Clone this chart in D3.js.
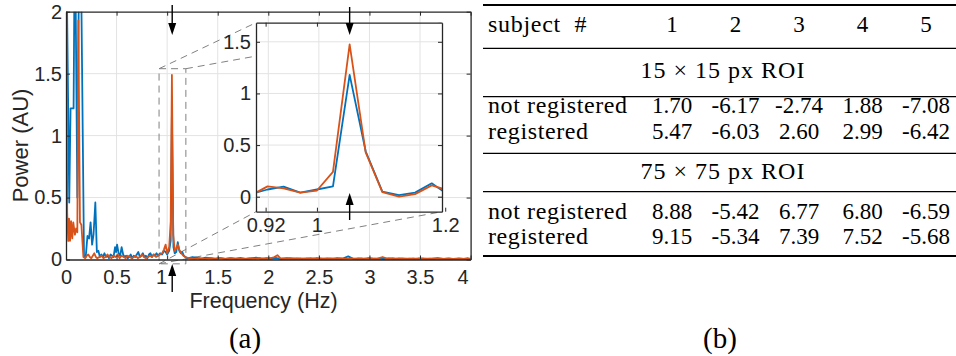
<!DOCTYPE html>
<html>
<head>
<meta charset="utf-8">
<script src="https://cdn.jsdelivr.net/npm/d3@7"></script>
<style>
  body { margin: 0; background: #fff; }
  svg { display: block; }
</style>
</head>
<body>
<svg id="fig" width="956" height="356"></svg>
<script>
// ---- data ----
const mainXTicks = [0, 0.5, 1, 1.5, 2, 2.5, 3, 3.5, 4];
const mainYTicks = [0, 0.5, 1, 1.5, 2];
const insetXTicks = [0.92, 1, 1.2];
const insetYTicks = [0, 0.5, 1, 1.5];

// spectrum, not registered (blue)
const blueFreq = [0.000, 0.032, 0.045, 0.075, 0.088, 0.112, 0.132, 0.143, 0.178, 0.195,
  0.212, 0.228, 0.243, 0.258, 0.272, 0.290, 0.305, 0.320, 0.335, 0.350,
  0.365, 0.380, 0.395, 0.410, 0.425, 0.440, 0.455, 0.470, 0.485, 0.495,
  0.505, 0.520, 0.535, 0.550, 0.565, 0.580, 0.595, 0.610, 0.625, 0.640,
  0.655, 0.670, 0.685, 0.700, 0.715, 0.730, 0.745, 0.760, 0.775, 0.790,
  0.805, 0.820, 0.835, 0.850, 0.865, 0.880, 0.895, 0.910, 0.930, 0.950,
  0.968, 0.985, 1.000, 1.020, 1.035, 1.047, 1.062, 1.075, 1.090, 1.105,
  1.120, 1.135, 1.150, 1.165, 1.180, 1.200, 1.250, 1.290, 1.330, 1.380,
  1.430, 1.480, 1.530, 1.580, 1.630, 1.680, 1.730, 1.780, 1.830, 1.880,
  1.930, 1.980, 2.030, 2.080, 2.130, 2.180, 2.230, 2.280, 2.330, 2.380,
  2.430, 2.480, 2.530, 2.580, 2.630, 2.680, 2.730, 2.790, 2.840, 2.890,
  2.940, 2.990, 3.040, 3.090, 3.140, 3.190, 3.240, 3.290, 3.340, 3.390,
  3.440, 3.490, 3.540, 3.590, 3.640, 3.690, 3.740, 3.790, 3.840, 3.890,
  3.940, 4.000];
const bluePower = [2.8, 0.46, 1.22, 1.22, 2.8, 0.50, 2.8, 2.8, 0.03, 0.02,
  0.19, 0.17, 0.30, 0.12, 0.20, 0.46, 0.06, 0.07, 0.02, 0.04,
  0.02, 0.05, 0.02, 0.03, 0.01, 0.04, 0.03, 0.02, 0.10, 0.06,
  0.12, 0.05, 0.03, 0.10, 0.04, 0.02, 0.03, 0.01, 0.02, 0.04,
  0.01, 0.03, 0.02, 0.04, 0.06, 0.02, 0.03, 0.05, 0.02, 0.03,
  0.01, 0.04, 0.05, 0.02, 0.04, 0.03, 0.05, 0.03, 0.05, 0.04,
  0.07, 0.06, 0.04, 0.07, 0.15, 1.18, 0.10, 0.05, 0.06, 0.14,
  0.07, 0.05, 0.06, 0.03, 0.02, 0.010, 0.020, 0.015, 0.005, 0.015,
  0.010, 0.005, 0.012, 0.004, 0.010, 0.006, 0.012, 0.004, 0.008, 0.015,
  0.005, 0.010, 0.008, 0.012, 0.004, 0.010, 0.006, 0.009, 0.004, 0.008,
  0.005, 0.010, 0.004, 0.008, 0.005, 0.010, 0.006, 0.025, 0.005, 0.008,
  0.004, 0.010, 0.005, 0.007, 0.004, 0.009, 0.003, 0.008, 0.005, 0.007,
  0.003, 0.008, 0.004, 0.006, 0.003, 0.007, 0.004, 0.006, 0.003, 0.007,
  0.004, 0.005];

// spectrum, registered (orange)
const orangeFreq = [0.000, 0.012, 0.022, 0.030, 0.040, 0.050, 0.062, 0.072, 0.088, 0.100,
  0.112, 0.122, 0.138, 0.152, 0.172, 0.190, 0.205, 0.220, 0.235, 0.250,
  0.265, 0.280, 0.295, 0.310, 0.330, 0.350, 0.370, 0.390, 0.410, 0.430,
  0.450, 0.470, 0.490, 0.510, 0.530, 0.550, 0.570, 0.590, 0.610, 0.630,
  0.650, 0.670, 0.690, 0.710, 0.730, 0.750, 0.770, 0.790, 0.810, 0.830,
  0.850, 0.870, 0.890, 0.910, 0.930, 0.950, 0.968, 0.985, 1.000, 1.020,
  1.035, 1.047, 1.060, 1.075, 1.090, 1.105, 1.120, 1.140, 1.160, 1.180,
  1.220, 1.270, 1.320, 1.370, 1.420, 1.470, 1.520, 1.570, 1.620, 1.670,
  1.720, 1.770, 1.820, 1.870, 1.920, 1.970, 2.020, 2.060, 2.090, 2.120,
  2.170, 2.220, 2.270, 2.320, 2.370, 2.420, 2.470, 2.520, 2.570, 2.620,
  2.670, 2.720, 2.770, 2.820, 2.870, 2.920, 2.970, 3.020, 3.070, 3.130,
  3.180, 3.230, 3.280, 3.330, 3.380, 3.430, 3.480, 3.530, 3.580, 3.630,
  3.680, 3.730, 3.780, 3.830, 3.880, 3.930, 3.970, 4.000];
const orangePower = [2.8, 0.37, 0.15, 0.33, 0.15, 0.31, 0.17, 0.30, 0.20, 0.25,
  0.22, 1.93, 0.30, 0.28, 0.02, 0.01, 0.03, 0.04, 0.02, 0.01,
  0.03, 0.05, 0.02, 0.01, 0.02, 0.03, 0.01, 0.02, 0.04, 0.02,
  0.01, 0.03, 0.02, 0.04, 0.01, 0.03, 0.02, 0.01, 0.03, 0.02,
  0.01, 0.02, 0.03, 0.01, 0.02, 0.04, 0.02, 0.01, 0.02, 0.03,
  0.02, 0.04, 0.02, 0.03, 0.04, 0.05, 0.08, 0.12, 0.05, 0.10,
  0.30, 1.49, 0.20, 0.07, 0.09, 0.12, 0.08, 0.05, 0.03, 0.02,
  0.010, 0.005, 0.012, 0.004, 0.010, 0.006, 0.012, 0.005, 0.010, 0.004,
  0.008, 0.005, 0.010, 0.006, 0.012, 0.005, 0.010, 0.020, 0.035, 0.010,
  0.006, 0.010, 0.004, 0.009, 0.005, 0.010, 0.004, 0.008, 0.005, 0.009,
  0.004, 0.008, 0.005, 0.009, 0.004, 0.008, 0.005, 0.009, 0.006, 0.020,
  0.006, 0.010, 0.004, 0.008, 0.005, 0.009, 0.004, 0.008, 0.005, 0.009,
  0.012, 0.005, 0.008, 0.004, 0.008, 0.005, 0.012, 0.006];

// zoomed inset around the heart-rate peak
const insetFreq = [0.897, 0.923, 0.948, 0.974, 1.000, 1.025, 1.051, 1.076, 1.102, 1.128, 1.153, 1.179, 1.205];
const insetBlue = [0.026, 0.07, 0.097, 0.04, 0.07, 0.10, 1.18, 0.44, 0.05, 0.015, 0.04, 0.13, 0.017];
const insetOrange = [0.013, 0.10, 0.08, 0.04, 0.06, 0.24, 1.475, 0.43, 0.045, 0.0, 0.025, 0.11, 0.06];
const peakFreq = 1.05;

// table (b)
const subjects = ['1', '2', '3', '4', '5'];
const roiLabels = ['15 \u00d7 15 px ROI', '75 \u00d7 75 px ROI'];
const rowLabels = ['not registered', 'registered'];
const roi15NotReg = [1.70, -6.17, -2.74, 1.88, -7.08];
const roi15Reg = [5.47, -6.03, 2.60, 2.99, -6.42];
const roi75NotReg = [8.88, -5.42, 6.77, 6.80, -6.59];
const roi75Reg = [9.15, -5.34, 7.39, 7.52, -5.68];

// ---- drawing ----
const BLUE = '#0072BD', ORANGE = '#D95319', AX = '#262626', GRID = '#e3e3e3';
const sans = '"Liberation Sans", Arial, sans-serif';
const serif = '"Liberation Serif", "Times New Roman", serif';

const svg = d3.select('#fig');
svg.append('rect').attr('width', 956).attr('height', 356).attr('fill', '#fff');
const defs = svg.append('defs');

const box = { left: 66, right: 470.6, top: 11.7, bottom: 259.5 };
const ibox = { left: 256, right: 442, top: 22.7, bottom: 211.7 };

const x = d3.scaleLinear().domain([0, 4]).range([box.left, box.right]);
const y = d3.scaleLinear().domain([0, 2]).range([box.bottom, box.top]);
const xi = d3.scaleLinear().domain([0.905, 1.195]).range([ibox.left, ibox.right]);
const yi = d3.scaleLinear().domain([-0.145, 1.685]).range([ibox.bottom, ibox.top]);

defs.append('clipPath').attr('id', 'clipMain').append('rect')
  .attr('x', box.left).attr('y', box.top)
  .attr('width', box.right - box.left).attr('height', box.bottom - box.top + 3);
defs.append('clipPath').attr('id', 'clipInset').append('rect')
  .attr('x', ibox.left).attr('y', ibox.top)
  .attr('width', ibox.right - ibox.left).attr('height', ibox.bottom - ibox.top);
const mask = defs.append('mask').attr('id', 'noInset');
mask.append('rect').attr('width', 956).attr('height', 356).attr('fill', '#fff');
mask.append('rect').attr('x', ibox.left).attr('y', ibox.top)
  .attr('width', ibox.right - ibox.left).attr('height', ibox.bottom - ibox.top).attr('fill', '#000');

// main grid
const grid = svg.append('g').attr('stroke', GRID).attr('stroke-width', 1);
grid.selectAll('.gx').data(mainXTicks.slice(1, -1)).join('line')
  .attr('x1', d => x(d)).attr('x2', d => x(d)).attr('y1', box.top).attr('y2', box.bottom);
grid.selectAll('.gy').data(mainYTicks.slice(1, -1)).join('line')
  .attr('y1', d => y(d)).attr('y2', d => y(d)).attr('x1', box.left).attr('x2', box.right);

// zoom rectangle and connectors
const zr = { f0: 0.92, f1: 1.185, p0: -0.035, p1: 1.54 };
const dash = svg.append('g').attr('stroke', '#808080').attr('stroke-width', 1)
  .attr('stroke-dasharray', '7,5').attr('fill', 'none');
dash.append('rect')
  .attr('x', x(zr.f0)).attr('y', y(zr.p1))
  .attr('width', x(zr.f1) - x(zr.f0)).attr('height', y(zr.p0) - y(zr.p1));
const connectors = [
  [[zr.f0, zr.p1], [ibox.left, ibox.top]],
  [[zr.f1, zr.p1], [ibox.right, ibox.top]],
  [[zr.f0, zr.p0], [ibox.right, ibox.bottom]],
  [[zr.f0, zr.p0], [ibox.left, ibox.bottom]]
];
dash.append('g').attr('mask', 'url(#noInset)').selectAll('line').data(connectors).join('line')
  .attr('x1', d => x(d[0][0])).attr('y1', d => y(d[0][1]))
  .attr('x2', d => d[1][0]).attr('y2', d => d[1][1]);

// main spectra
const mainLine = d3.line().x(d => x(d[0])).y(d => y(d[1]));
const plot = svg.append('g').attr('clip-path', 'url(#clipMain)').attr('fill', 'none')
  .attr('stroke-width', 1.8).attr('stroke-linejoin', 'round');
plot.append('path').attr('stroke', BLUE).attr('d', mainLine(d3.zip(blueFreq, bluePower)));
plot.append('path').attr('stroke', ORANGE).attr('d', mainLine(d3.zip(orangeFreq, orangePower)));

// main axes (box on, ticks inward)
function styleAxis(g) {
  g.attr('color', AX).attr('font-family', sans).attr('font-size', 20);
  g.select('.domain').attr('stroke-width', 1.3);
  g.selectAll('.tick text').attr('fill', AX);
}
svg.append('g').attr('transform', `translate(0,${box.bottom})`)
  .call(d3.axisBottom(x).tickValues(mainXTicks).tickFormat(d3.format('')).tickSizeInner(-4).tickSizeOuter(0).tickPadding(10.3))
  .call(styleAxis)
  .call(g => g.selectAll('.tick text').attr('dx', d => d === 1 ? -6 : d === 4 ? -8 : 0));
svg.append('g').attr('transform', `translate(0,${box.top})`)
  .call(d3.axisTop(x).tickValues(mainXTicks).tickFormat('').tickSizeInner(-4).tickSizeOuter(0))
  .call(styleAxis);
svg.append('g').attr('transform', `translate(${box.left},0)`)
  .call(d3.axisLeft(y).tickValues(mainYTicks).tickFormat(d3.format('')).tickSizeInner(-4).tickSizeOuter(0).tickPadding(4))
  .call(styleAxis);
svg.append('g').attr('transform', `translate(${box.right},0)`)
  .call(d3.axisRight(y).tickValues(mainYTicks).tickFormat('').tickSizeInner(-4).tickSizeOuter(0))
  .call(styleAxis);

svg.append('text').attr('x', 263.5).attr('y', 308).attr('text-anchor', 'middle')
  .attr('font-family', sans).attr('font-size', 21.5).attr('fill', AX).text('Frequency (Hz)');
svg.append('text').attr('transform', 'translate(27.5,145.5) rotate(-90)').attr('text-anchor', 'middle')
  .attr('font-family', sans).attr('font-size', 22).attr('fill', AX).text('Power (AU)');

// inset
const igrid = svg.append('g').attr('stroke', GRID).attr('stroke-width', 1);
igrid.selectAll('line').data(insetYTicks).join('line')
  .attr('y1', d => yi(d)).attr('y2', d => yi(d)).attr('x1', ibox.left).attr('x2', ibox.right);

const insetLine = d3.line().x(d => xi(d[0])).y(d => yi(d[1]));
const iplot = svg.append('g').attr('clip-path', 'url(#clipInset)').attr('fill', 'none')
  .attr('stroke-width', 1.8).attr('stroke-linejoin', 'round');
iplot.append('path').attr('stroke', BLUE).attr('d', insetLine(d3.zip(insetFreq, insetBlue)));
iplot.append('path').attr('stroke', ORANGE).attr('d', insetLine(d3.zip(insetFreq, insetOrange)));

svg.append('g').attr('transform', `translate(0,${ibox.bottom})`)
  .call(d3.axisBottom(xi).tickValues(insetXTicks).tickFormat(d3.format('')).tickSizeInner(-4).tickSizeOuter(0).tickPadding(6.5))
  .call(styleAxis);
svg.append('g').attr('transform', `translate(0,${ibox.top})`)
  .call(d3.axisTop(xi).tickValues(insetXTicks.slice(0, 2)).tickFormat('').tickSizeInner(-4).tickSizeOuter(0))
  .call(styleAxis);
svg.append('g').attr('transform', `translate(${ibox.left},0)`)
  .call(d3.axisLeft(yi).tickValues(insetYTicks).tickFormat(d3.format('')).tickSizeInner(-4).tickSizeOuter(0).tickPadding(5))
  .call(styleAxis);
svg.append('g').attr('transform', `translate(${ibox.right},0)`)
  .call(d3.axisRight(yi).tickValues(insetYTicks).tickFormat('').tickSizeInner(-4).tickSizeOuter(0))
  .call(styleAxis);

// arrows marking the heart-rate peak
function arrow(xp, yTail, yTip) {
  const dir = yTip > yTail ? 1 : -1, len = 12, hw = 4;
  const g = svg.append('g');
  g.append('line').attr('x1', xp).attr('x2', xp).attr('y1', yTail).attr('y2', yTip - dir * len)
    .attr('stroke', '#000').attr('stroke-width', 1.4);
  g.append('path').attr('fill', '#000')
    .attr('d', `M${xp},${yTip}L${xp - hw},${yTip - dir * len}L${xp + hw},${yTip - dir * len}Z`);
}
arrow(x(peakFreq), 5, 35);
arrow(x(peakFreq), 292, 264);
arrow(xi(insetFreq[6]), 7, 35);
arrow(xi(insetFreq[6]), 220, 193);

// panel captions
svg.append('text').attr('x', 245).attr('y', 348).attr('text-anchor', 'middle')
  .attr('font-family', serif).attr('font-size', 29).text('(a)');
svg.append('text').attr('x', 720).attr('y', 348).attr('text-anchor', 'middle')
  .attr('font-family', serif).attr('font-size', 29).text('(b)');

// ---- table (b) ----
const tbl = svg.append('g').attr('font-family', serif).attr('font-size', 24).attr('fill', '#000');
const col = d3.scalePoint().domain(subjects).range([672, 926]);
const tx0 = 483, tx1 = 956, labelX = 488;
const rules = [[5, 2], [48.3, 1.2], [96.7, 1.2], [153.3, 1.2], [191.7, 1.2], [256, 2]];
tbl.selectAll('line').data(rules).join('line')
  .attr('x1', tx0).attr('x2', tx1).attr('y1', d => d[0]).attr('y2', d => d[0])
  .attr('stroke', '#000').attr('stroke-width', d => d[1]);

const head = tbl.append('text').attr('x', labelX).attr('y', 32).attr('letter-spacing', 0.7).text('subject ');
head.append('tspan').attr('dx', 7).text('#');
tbl.selectAll('.hd').data(subjects).join('text').attr('class', 'hd')
  .attr('x', d => col(d)).attr('y', 32).attr('text-anchor', 'middle').attr('font-size', 23).text(d => d);

const blocks = [
  { title: roiLabels[0], titleY: 78, rowY: [113, 139], rows: [roi15NotReg, roi15Reg] },
  { title: roiLabels[1], titleY: 179, rowY: [219, 244], rows: [roi75NotReg, roi75Reg] }
];
blocks.forEach(b => {
  tbl.append('text').attr('x', 723).attr('y', b.titleY).attr('text-anchor', 'middle')
    .attr('letter-spacing', 1).text(b.title);
  b.rows.forEach((vals, r) => {
    tbl.append('text').attr('x', labelX).attr('y', b.rowY[r]).attr('letter-spacing', 0.6).text(rowLabels[r]);
    vals.forEach((v, i) => {
      tbl.append('text').attr('x', col(subjects[i])).attr('y', b.rowY[r])
        .attr('text-anchor', 'middle').attr('font-size', 23).text(v.toFixed(2));
    });
  });
});
</script>
</body>
</html>
